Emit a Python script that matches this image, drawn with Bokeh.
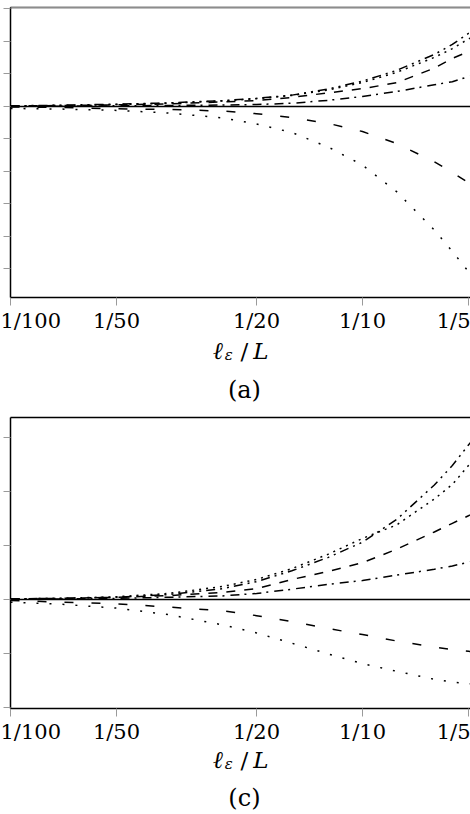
from bokeh.plotting import figure
from bokeh.models import Range1d, FixedTicker, LinearAxis, Span, Label
from bokeh.layouts import column
from bokeh.embed import file_html
from bokeh.resources import INLINE

# ---------------- data ----------------
x_vals = [0.01, 0.014, 0.02, 0.028, 0.04, 0.05, 0.063, 0.08, 0.1, 0.125, 0.16, 0.18, 0.2, 0.21]

x_tick_vals = [0.01, 0.02, 0.05, 0.1, 0.2]
x_tick_labels = ["1/100", "1/50", "1/20", "1/10", "1/5"]

# panel (a)
a_dashdotdot = [0.02, 0.04, 0.07, 0.11, 0.18, 0.25, 0.35, 0.54, 0.78, 1.11, 1.60, 1.91, 2.25, 2.37]
a_dotted = [0.015, 0.03, 0.06, 0.10, 0.17, 0.24, 0.34, 0.51, 0.74, 1.05, 1.51, 1.78, 2.08, 2.18]
a_dashed_pos = [0.015, 0.03, 0.05, 0.08, 0.14, 0.18, 0.28, 0.42, 0.55, 0.73, 1.18, 1.48, 1.69, 1.78]
a_dashdot = [0.0, 0.01, 0.02, 0.03, 0.045, 0.06, 0.10, 0.19, 0.31, 0.46, 0.67, 0.76, 0.92, 0.98]
a_dashed_neg = [-0.015, -0.03, -0.07, -0.09, -0.14, -0.22, -0.34, -0.52, -0.77, -1.14, -1.70, -2.03, -2.34, -2.46]
a_dotted_neg = [-0.06, -0.08, -0.12, -0.20, -0.35, -0.54, -0.80, -1.25, -1.80, -2.62, -3.80, -4.46, -5.08, -5.35]
a_y_ticks = [-5, -4, -3, -2, -1, 0, 1, 2, 3]

# panel (c)
c_dashdotdot = [0.01, 0.02, 0.04, 0.09, 0.20, 0.33, 0.53, 0.78, 1.06, 1.48, 2.12, 2.48, 2.86, 3.03]
c_dotted = [0.01, 0.02, 0.05, 0.11, 0.24, 0.37, 0.57, 0.84, 1.13, 1.38, 1.86, 2.13, 2.48, 2.61]
c_dashed_pos = [0.01, 0.02, 0.04, 0.07, 0.13, 0.20, 0.37, 0.52, 0.68, 0.93, 1.25, 1.41, 1.55, 1.62]
c_dashdot = [0.005, 0.01, 0.02, 0.04, 0.065, 0.11, 0.19, 0.28, 0.35, 0.45, 0.56, 0.62, 0.69, 0.72]
c_dashed_neg = [-0.02, -0.05, -0.08, -0.14, -0.21, -0.30, -0.41, -0.54, -0.65, -0.77, -0.88, -0.93, -0.96, -0.98]
c_dotted_neg = [-0.05, -0.09, -0.16, -0.28, -0.47, -0.62, -0.81, -1.01, -1.19, -1.33, -1.48, -1.53, -1.56, -1.57]
c_y_ticks = [-2, -1, 0, 1, 2, 3]

x_label_parts = ["ℓ", "ε", "/", "L"]
panel_tags = ["(a)", "(c)"]

# ---------------- styles ----------------
STYLE_DASHDOTDOT = "9 5 2 5 2 5"
STYLE_DOTTED = "2 5"
STYLE_DASHED = "9 9"
STYLE_DASHDOT = "9 5 2 6"
STYLE_LOOSE_DASHED = "9 18"
STYLE_LOOSE_DOTTED = "2 11"

FONT = "DejaVu Serif"
W = 470
X_LO, X_HI = 0.01, 0.2027


def make_panel(height, b_top, b_bottom, y_lo, y_hi, y_ticks, series, top_rule):
    p = figure(width=W, height=height, x_axis_type="log",
               x_range=Range1d(X_LO, X_HI), y_range=Range1d(y_lo, y_hi),
               output_backend="svg", toolbar_location=None,
               min_border_left=10, min_border_right=0,
               min_border_top=b_top, min_border_bottom=b_bottom)
    p.outline_line_color = None
    p.xgrid.visible = False
    p.ygrid.visible = False
    p.background_fill_color = "white"
    p.border_fill_color = "white"

    xa = p.xaxis[0]
    xa.ticker = FixedTicker(ticks=x_tick_vals)
    xa.major_label_overrides = dict(zip(x_tick_vals, x_tick_labels))
    xa.major_tick_out = 8
    xa.major_tick_in = 0
    xa.minor_tick_out = 0
    xa.minor_tick_in = 0
    xa.major_tick_line_color = "#9a9a9a"
    xa.axis_line_color = "black"
    xa.axis_line_width = 1.5
    xa.major_label_text_font = FONT
    xa.major_label_text_font_size = "21px"
    xa.major_label_text_color = "black"
    xa.major_label_standoff = 3

    ya = p.yaxis[0]
    ya.ticker = FixedTicker(ticks=[], minor_ticks=y_ticks)
    ya.major_label_standoff = 0
    ya.major_tick_out = 7
    ya.major_tick_in = 0
    ya.minor_tick_out = 7
    ya.minor_tick_in = 0
    ya.minor_tick_line_color = "#9a9a9a"
    ya.axis_line_color = "black"
    ya.axis_line_width = 1.5

    top = LinearAxis(ticker=FixedTicker(ticks=[]), major_label_standoff=0,
                     major_tick_out=5, major_tick_in=0,
                     minor_tick_out=0, minor_tick_in=0,
                     axis_line_color="black", axis_line_width=1.5)
    p.add_layout(top, "above")
    if top_rule:
        rule = LinearAxis(ticker=FixedTicker(ticks=[]), major_label_standoff=0,
                          major_tick_out=0, major_tick_in=0,
                          minor_tick_out=0, minor_tick_in=0,
                          axis_line_color="#8c8c8c", axis_line_width=1.2)
        p.add_layout(rule, "above")

    p.add_layout(Span(location=0, dimension="width", line_color="black", line_width=1.5))

    for ys, dash in series:
        p.line(x_vals, ys, line_color="black", line_width=1.5, line_dash=dash)
    return p


def make_caption(height, base_y, tag_y, tag):
    q = figure(width=W, height=height, x_range=Range1d(0, W), y_range=Range1d(0, height),
               output_backend="svg", toolbar_location=None,
               x_axis_location=None, y_axis_location=None, min_border=0)
    q.outline_line_color = None
    q.xgrid.visible = False
    q.ygrid.visible = False
    q.border_fill_color = "white"
    ell, eps, slash, ell_L = x_label_parts
    q.add_layout(Label(x=207, y=base_y, text=ell, text_font=FONT, text_font_style="italic",
                       text_font_size="24px", text_color="black",
                       text_baseline="alphabetic", text_align="left"))
    q.add_layout(Label(x=219, y=base_y - 4, text=eps, text_font=FONT, text_font_style="italic",
                       text_font_size="15px", text_color="black",
                       text_baseline="alphabetic", text_align="left"))
    q.add_layout(Label(x=239, y=base_y, text=slash, text_font=FONT,
                       text_font_size="23px", text_color="black",
                       text_baseline="alphabetic", text_align="center"))
    q.add_layout(Label(x=248, y=base_y, text=ell_L, text_font=FONT, text_font_style="italic",
                       text_font_size="23px", text_color="black",
                       text_baseline="alphabetic", text_align="left"))
    q.add_layout(Label(x=239, y=tag_y, text=tag, text_font=FONT,
                       text_font_size="24px", text_color="black",
                       text_baseline="alphabetic", text_align="center"))
    return q


series_a = [(a_dashdotdot, STYLE_DASHDOTDOT), (a_dotted, STYLE_DOTTED),
            (a_dashed_pos, STYLE_DASHED), (a_dashdot, STYLE_DASHDOT),
            (a_dashed_neg, STYLE_LOOSE_DASHED), (a_dotted_neg, STYLE_LOOSE_DOTTED)]
series_c = [(c_dashdotdot, STYLE_DASHDOTDOT), (c_dotted, STYLE_DOTTED),
            (c_dashed_pos, STYLE_DASHED), (c_dashdot, STYLE_DASHDOT),
            (c_dashed_neg, STYLE_LOOSE_DASHED), (c_dotted_neg, STYLE_LOOSE_DOTTED)]

p_a = make_panel(336, 7, 39, -5.877, 3.046, a_y_ticks, series_a, True)
cap_a = make_caption(74, 60, 21, panel_tags[0])
p_c = make_panel(337, 7, 39, -2.02, 3.37, c_y_ticks, series_c, False)
cap_c = make_caption(67, 55, 17, panel_tags[1])

layout = column(p_a, cap_a, p_c, cap_c, spacing=0)

open("out.html", "w").write(file_html(layout, INLINE))
